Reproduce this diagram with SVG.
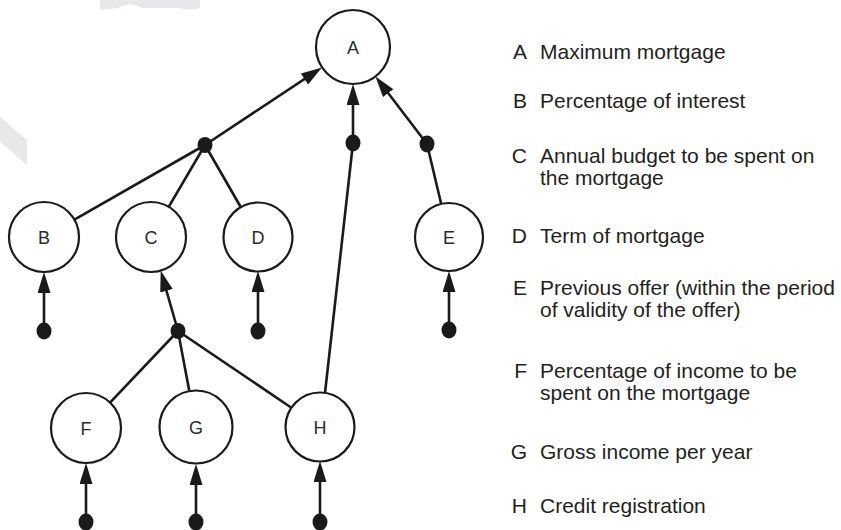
<svg xmlns="http://www.w3.org/2000/svg" width="841" height="530" viewBox="0 0 841 530">
<style>
.node circle{fill:#fff;stroke:#1a1a1a;stroke-width:2.2}
.node text{font-family:"Liberation Sans",Arial,sans-serif;font-size:18px;fill:#2a2a2a;text-anchor:middle}
.edge{stroke:#1a1a1a;stroke-width:2.6;fill:none}
.arr{marker-end:url(#ah)}
.dot{fill:#1a1a1a}
.leg{font-family:"Liberation Sans",Arial,sans-serif;font-size:21px;fill:#231f20}
.key{text-anchor:end}
.wm{fill:#e7e8ea}
</style>
<defs>
<marker id="ah" markerUnits="userSpaceOnUse" markerWidth="22" markerHeight="14" refX="13" refY="6.5" orient="auto">
<path d="M0,0 L21,6.5 L0,13 Z" fill="#1a1a1a"/>
</marker>
</defs>
<rect width="841" height="530" fill="#fff"/>
<g id="watermark">
<path class="wm" d="M0,117 L27,140 L27,165 L0,142 Z"/>
<path class="wm" d="M100,0 H200 V8 Q190,11 180,8 L142,8 Q130,1 118,8 L100,10 Z"/>
</g>
<g id="connectors">
<line class="edge arr" x1="205" y1="145" x2="315.3" y2="71.8"/>
<line class="edge arr" x1="353" y1="143" x2="353" y2="92"/>
<line class="edge arr" x1="427" y1="144" x2="380.3" y2="82.8"/>
<line class="edge arr" x1="44" y1="331" x2="44" y2="280"/>
<line class="edge arr" x1="178" y1="331" x2="162.9" y2="278.3"/>
<line class="edge arr" x1="258" y1="331" x2="258" y2="279"/>
<line class="edge arr" x1="449" y1="330" x2="449" y2="279"/>
<line class="edge arr" x1="86" y1="522" x2="86" y2="471"/>
<line class="edge arr" x1="196" y1="522" x2="196" y2="472"/>
<line class="edge arr" x1="320" y1="522" x2="320" y2="469"/>
<line class="edge" x1="205" y1="145" x2="74.4" y2="219.6"/>
<line class="edge" x1="205" y1="145" x2="168.7" y2="206.8"/>
<line class="edge" x1="205" y1="145" x2="241" y2="207.5"/>
<line class="edge" x1="353" y1="143" x2="325" y2="393"/>
<line class="edge" x1="427" y1="144" x2="441.2" y2="204"/>
<line class="edge" x1="178" y1="331" x2="110" y2="402.6"/>
<line class="edge" x1="178" y1="331" x2="189.2" y2="390.6"/>
<line class="edge" x1="178" y1="331" x2="291.8" y2="408"/>
<ellipse class="dot" cx="205" cy="145" rx="7.5" ry="8"/>
<ellipse class="dot" cx="353" cy="143" rx="7.5" ry="8.5"/>
<ellipse class="dot" cx="427" cy="144" rx="7.5" ry="8.5"/>
<ellipse class="dot" cx="178" cy="331" rx="7.5" ry="8"/>
<ellipse class="dot" cx="44" cy="331" rx="7.5" ry="8.5"/>
<ellipse class="dot" cx="258" cy="331" rx="7.5" ry="8.5"/>
<ellipse class="dot" cx="449" cy="330" rx="7.5" ry="8.5"/>
<ellipse class="dot" cx="86" cy="522" rx="7.5" ry="8.5"/>
<ellipse class="dot" cx="196" cy="522" rx="7.5" ry="8.5"/>
<ellipse class="dot" cx="320" cy="522" rx="7.5" ry="8.5"/>
</g>
<g id="node-A" class="node"><circle cx="353" cy="47" r="37"/><text x="353" y="53.5">A</text></g>
<g id="node-B" class="node"><circle cx="44" cy="237" r="35"/><text x="44" y="243.5">B</text></g>
<g id="node-C" class="node"><circle cx="151" cy="237" r="35"/><text x="151" y="243.5">C</text></g>
<g id="node-D" class="node"><circle cx="258" cy="237" r="34.5"/><text x="258" y="243.5">D</text></g>
<g id="node-E" class="node"><circle cx="449" cy="237" r="34"/><text x="449" y="243.5">E</text></g>
<g id="node-F" class="node"><circle cx="86" cy="428" r="35"/><text x="86" y="434.5">F</text></g>
<g id="node-G" class="node"><circle cx="196" cy="427" r="36.5"/><text x="196" y="433.5">G</text></g>
<g id="node-H" class="node"><circle cx="320" cy="427" r="34.5"/><text x="320" y="433.5">H</text></g>
<g id="legend" class="leg">
<text class="key" x="527" y="59">A</text><text x="540" y="59">Maximum mortgage</text>
<text class="key" x="527" y="108">B</text><text x="540" y="108">Percentage of interest</text>
<text class="key" x="527" y="163">C</text><text x="540" y="163">Annual budget to be spent on</text>
<text x="540" y="185">the mortgage</text>
<text class="key" x="527" y="243">D</text><text x="540" y="243">Term of mortgage</text>
<text class="key" x="527" y="295">E</text><text x="540" y="295">Previous offer (within the period</text>
<text x="540" y="317">of validity of the offer)</text>
<text class="key" x="527" y="378">F</text><text x="540" y="378">Percentage of income to be</text>
<text x="540" y="400">spent on the mortgage</text>
<text class="key" x="527" y="459">G</text><text x="540" y="459">Gross income per year</text>
<text class="key" x="527" y="513">H</text><text x="540" y="513">Credit registration</text>
</g>
</svg>
